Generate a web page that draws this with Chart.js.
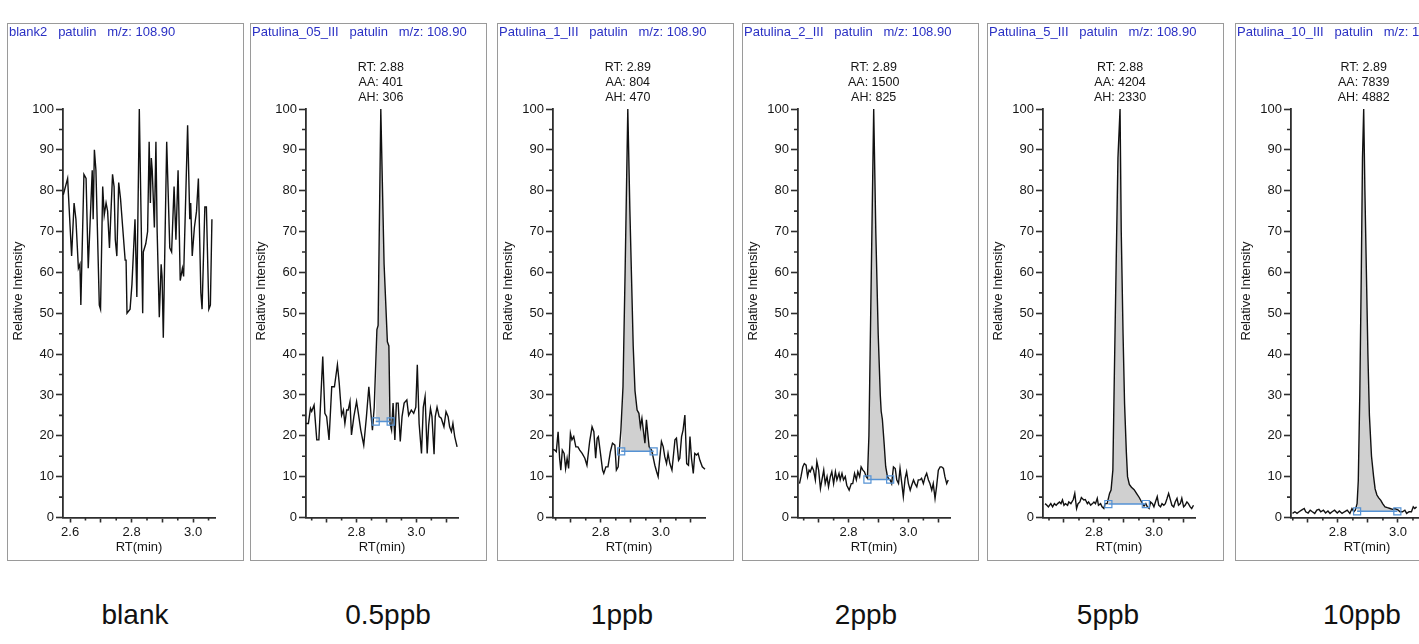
<!DOCTYPE html>
<html lang="en">
<head>
  <meta charset="UTF-8" />
  <title>Patulin m/z 108.90 – calibration levels</title>
  <script src="https://cdn.jsdelivr.net/npm/chart.js"></script>
  <style>
    body {
      margin: 0;
      width: 1419px;
      height: 644px;
      overflow: hidden;
      background: #fff;
      position: relative;
      font-family: 'Liberation Sans', Arial, sans-serif;
    }

    .panel {
      position: absolute;
      top: 23px;
      width: 237px;
      height: 538px;
      border: 1px solid #9a9a9a;
      box-sizing: border-box;
    }

    .panel canvas {
      position: absolute;
      left: -1px;
      top: -1px;
    }

    .title {
      position: absolute;
      left: 1px;
      top: 0px;
      font-size: 13px;
      color: #2a30c4;
      white-space: pre;
    }

    .conc {
      position: absolute;
      top: 601px;
      font-size: 28px;
      line-height: 28px;
      color: #111;
      transform: translateX(-50%);
      white-space: nowrap;
    }
  </style>
</head>
<body>

  <div id="wrap"></div>

  <script>
    // --- data ---
    const panelNames = ['blank2', 'Patulina_05_III', 'Patulina_1_III', 'Patulina_2_III', 'Patulina_5_III', 'Patulina_10_III'];
    const concLabels = ['blank', '0.5ppb', '1ppb', '2ppb', '5ppb', '10ppb'];

    const peakRT = ['', '2.88', '2.89', '2.89', '2.88', '2.89'];
    const peakAA = ['', '401', '804', '1500', '4204', '7839'];
    const peakAH = ['', '306', '470', '825', '2330', '4882'];

    // integration baseline: start RT, end RT, level (%)
    const baseStart = [null, 2.864, 2.868, 2.863, 2.848, 2.864];
    const baseEnd = [null, 2.914, 2.976, 2.939, 2.973, 2.998];
    const baseLevel = [null, 23.5, 16.2, 9.3, 3.3, 1.5];

    const yTicks = [0, 10, 20, 30, 40, 50, 60, 70, 80, 90, 100];
    const yMinorTicks = [5, 15, 25, 35, 45, 55, 65, 75, 85, 95];
    const xTicksBlank = [2.6, 2.7, 2.8, 2.9, 3.0];
    const xLabelsBlank = ['2.6', '2.8', '3.0'];
    const xTicks = [2.7, 2.8, 2.9, 3.0, 3.1];
    const xLabels = ['2.8', '3.0'];
    const xMinorTicks = [2.65, 2.75, 2.85, 2.95, 3.05];

    const rtBlank = [2.578,2.592,2.605,2.613,2.619,2.627,2.632,2.635,2.645,2.652,2.659,2.672,2.675,2.679,2.684,2.695,2.699,2.706,2.711,2.717,2.722,2.728,2.738,2.743,2.747,2.752,2.758,2.764,2.771,2.779,2.782,2.785,2.795,2.801,2.811,2.817,2.825,2.836,2.838,2.846,2.852,2.857,2.861,2.864,2.867,2.874,2.879,2.883,2.890,2.896,2.899,2.903,2.914,2.924,2.930,2.938,2.944,2.951,2.958,2.965,2.969,2.982,2.989,2.992,2.997,3.004,3.011,3.017,3.025,3.029,3.038,3.043,3.051,3.056,3.061];
    const intBlank = [79,83,64,77,73,61,62,52,84,83,61,85,73,90,85,52,51,81,74,77,75,66,84,81,68,64,82,78,71,63,63,50,51,57,73,54,100,50,65,67,70,92,77,88,85,71,92,70,49,62,59,44,92,66,65,81,68,85,58,61,59,96,73,77,64,71,75,83,55,51,76,76,51,52,73];

    const rt05 = [2.631,2.639,2.646,2.650,2.658,2.667,2.674,2.687,2.694,2.700,2.708,2.717,2.726,2.736,2.742,2.750,2.756,2.761,2.767,2.772,2.778,2.783,2.791,2.800,2.806,2.814,2.824,2.833,2.841,2.848,2.853,2.859,2.868,2.872,2.881,2.892,2.903,2.908,2.912,2.917,2.922,2.928,2.933,2.939,2.946,2.952,2.959,2.968,2.974,2.983,2.991,2.998,3.003,3.009,3.017,3.023,3.029,3.036,3.041,3.047,3.052,3.059,3.063,3.069,3.076,3.083,3.092,3.099,3.106,3.111,3.117,3.122,3.128,3.136];
    const int05 = [23,23,26.7,26,27.5,19,19,39.4,25.5,24.7,19,32,32,37.4,32.9,25,26.3,23,26.3,26.3,28.4,20.2,24.7,28.4,25.5,21.4,17.7,24.7,32,25.5,21.4,27,46,47,100,62,43,42,23,21.4,28,19,28,28,18.6,24.7,28,28.8,25,26.3,25.5,27,37.4,23,15.7,27,29.6,15.7,22.6,26.7,24.7,15.5,24.7,27,24.7,24.3,22.2,25.9,24.7,22.2,21,23,19.8,17.3];

    const rt1 = [2.641,2.647,2.652,2.658,2.663,2.667,2.672,2.678,2.683,2.688,2.693,2.699,2.704,2.710,2.717,2.724,2.730,2.738,2.747,2.754,2.763,2.771,2.777,2.783,2.788,2.792,2.799,2.806,2.810,2.817,2.824,2.832,2.839,2.847,2.852,2.858,2.861,2.867,2.874,2.881,2.890,2.897,2.902,2.908,2.914,2.921,2.927,2.932,2.937,2.941,2.947,2.952,2.957,2.961,2.969,2.974,2.980,2.986,2.991,2.997,3.002,3.008,3.013,3.019,3.024,3.030,3.037,3.041,3.047,3.052,3.059,3.063,3.069,3.074,3.080,3.086,3.092,3.097,3.102,3.108,3.113,3.119,3.124,3.130,3.138,3.147];
    const int1 = [16.7,16.5,16.1,21,14.5,11.6,16.5,15.7,12,14.5,12,20.6,19,19.8,17.3,17.3,16.5,15.7,14.5,12.8,18.6,22.2,21,14.5,19.4,19.8,15.7,11.6,10.8,12.4,12.4,16.1,18.2,17.7,11.6,12.4,15.7,21.4,32,60,100,75,60,42,31,26.3,25.5,22.2,24.3,21.8,18.2,23.9,20.2,17.3,16.5,14.9,12.8,11.2,10,14.9,18.6,17.3,14.9,13.2,15.7,13.2,11.6,14.5,19,19.4,14,14.5,19.8,21.4,25.1,13.2,12.8,19.8,14.5,10.8,15.7,15.3,15.7,14,12.4,11.8];

    const rt2 = [2.636,2.641,2.647,2.652,2.658,2.663,2.668,2.672,2.678,2.683,2.689,2.694,2.700,2.706,2.711,2.717,2.722,2.728,2.733,2.739,2.744,2.750,2.756,2.761,2.768,2.772,2.778,2.783,2.789,2.794,2.802,2.809,2.814,2.820,2.826,2.831,2.837,2.842,2.848,2.853,2.859,2.863,2.868,2.872,2.878,2.884,2.891,2.899,2.906,2.909,2.913,2.919,2.924,2.930,2.934,2.939,2.944,2.950,2.956,2.961,2.967,2.972,2.978,2.983,2.989,2.994,3.000,3.006,3.011,3.017,3.022,3.028,3.033,3.039,3.044,3.050,3.056,3.061,3.067,3.072,3.078,3.083,3.089,3.094,3.100,3.106,3.111,3.117,3.122,3.128,3.133];
    const int2 = [8.3,10,12.4,13.2,12.8,10,11.6,11.2,12.4,11.6,9.2,13.7,11.6,7.1,9.2,11.6,8.3,10,7.5,10,11.2,8.3,11.2,9.2,10.8,9.2,10.8,9.2,10,7.9,6.7,8.3,8.3,10.8,9.2,11.2,10,12.4,11.6,11.2,10,9.6,20,40,70,100,70,45,30,26,24,18,12.5,10,9.5,9.2,8.3,12.4,12,9.2,8.3,12,8.3,5.1,9.6,11.2,8.3,6.7,7.9,9.2,8.3,7.5,9.2,9.2,9.6,8.3,10,10.8,9.2,8.3,6.7,8.3,4.7,7.5,11.6,12.4,12.4,12,10,8.3,9.2];

    const rt5 = [2.637,2.643,2.648,2.656,2.662,2.668,2.674,2.679,2.685,2.690,2.695,2.700,2.705,2.712,2.716,2.723,2.731,2.736,2.742,2.747,2.753,2.758,2.766,2.771,2.778,2.782,2.789,2.795,2.800,2.805,2.811,2.815,2.822,2.827,2.833,2.837,2.844,2.852,2.857,2.863,2.868,2.874,2.880,2.887,2.891,2.897,2.902,2.908,2.912,2.918,2.925,2.934,2.943,2.951,2.959,2.967,2.973,2.978,2.984,2.989,2.995,3.000,3.005,3.011,3.016,3.022,3.027,3.033,3.038,3.044,3.049,3.055,3.060,3.066,3.071,3.077,3.082,3.088,3.093,3.099,3.104,3.110,3.115,3.121,3.126,3.132];
    const int5 = [3.4,3.0,2.6,3.4,2.6,3.4,3.0,3.4,3.8,3.4,4.3,3.0,3.4,3.0,3.8,3.4,4.4,5.9,2.2,3.4,3.8,4.9,4.3,4.4,3.4,3.8,3.0,3.4,3.8,3.4,4.7,3.0,3.4,2.6,2.2,3.4,3.4,5.9,6.7,11.6,35,62,88,100,70,45,28,16,10,8.1,7.4,6.8,5.8,4.9,3.8,2.8,3.4,2.6,2.2,3.8,3.4,2.6,3.8,5.1,3.0,2.6,3.4,3.0,3.4,4.7,5.9,4.3,3.0,2.6,3.8,4.7,3.0,3.4,4.7,2.6,3.0,3.8,3.4,2.6,2.2,3.0];

    const rt10 = [2.649,2.657,2.664,2.671,2.679,2.688,2.693,2.701,2.708,2.715,2.723,2.730,2.737,2.743,2.752,2.759,2.767,2.774,2.781,2.789,2.798,2.805,2.814,2.822,2.831,2.840,2.847,2.853,2.858,2.864,2.868,2.873,2.878,2.882,2.886,2.890,2.895,2.900,2.905,2.912,2.919,2.924,2.930,2.936,2.943,2.949,2.957,2.965,2.974,2.982,2.990,2.996,3.001,3.007,3.015,3.023,3.029,3.037,3.045,3.051,3.056,3.062];
    const int10 = [1.0,1.4,1.0,1.4,1.8,2.2,1.4,1.1,1.8,1.4,1.0,1.8,2.0,1.4,1.8,1.1,1.6,1.0,1.4,1.8,1.1,1.6,1.0,1.4,1.8,1.0,2.2,1.4,1.8,3.4,9,30,60,88,100,80,60,40,25,15,10,7,5.5,4.8,4.2,3.4,2.6,2.4,2.2,2.0,2.2,2.0,1.8,1.4,1.4,1.8,1.0,1.4,1.4,2.6,2.2,2.6];

    const rtSeries = [rtBlank, rt05, rt1, rt2, rt5, rt10];
    const intSeries = [intBlank, int05, int1, int2, int5, int10];

    // --- layout ---
    const panelLeft = [7, 250, 497, 742, 987, 1235];
    const xMin = [2.577, 2.631, 2.641, 2.631, 2.630, 2.644];
    const xMax = [3.071, 3.139, 3.147, 3.139, 3.137, 3.150];
    const concCenter = [135, 388, 622, 866, 1108, 1362];
    const PW = 237, PH = 538;

    const axisColor = '#2e2e2e';
    const textColor = '#161616';
    const traceColor = '#111';
    const fillColor = '#d0d0d0';
    const baseColor = '#5592d4';

    Chart.defaults.font.family = "'Liberation Sans', Arial, sans-serif";
    Chart.defaults.color = textColor;

    // minor ticks, y title and peak label
    const decor = {
      id: 'decor',
      afterDraw(chart, args, opts) {
        const { ctx, chartArea, scales } = chart;
        ctx.save();
        ctx.strokeStyle = axisColor;
        ctx.lineWidth = 1.6;
        ctx.beginPath();
        yMinorTicks.forEach(v => {
          const py = scales.y.getPixelForValue(v);
          ctx.moveTo(chartArea.left - 4, py);
          ctx.lineTo(chartArea.left, py);
        });
        xMinorTicks.forEach(v => {
          if (v < scales.x.min || v > scales.x.max) return;
          const px = scales.x.getPixelForValue(v);
          ctx.moveTo(px, chartArea.bottom);
          ctx.lineTo(px, chartArea.bottom + 3);
        });
        ctx.stroke();

        ctx.fillStyle = textColor;
        ctx.font = "13px 'Liberation Sans', Arial, sans-serif";
        ctx.textAlign = 'center';
        ctx.textBaseline = 'middle';
        ctx.save();
        ctx.translate(11, chartArea.top + 182);
        ctx.rotate(-Math.PI / 2);
        ctx.fillText('Relative Intensity', 0, 0);
        ctx.restore();

        if (opts.lines && opts.lines.length) {
          const px = scales.x.getPixelForValue(opts.apex);
          ctx.font = "12.5px 'Liberation Sans', Arial, sans-serif";
          opts.lines.forEach((t, k) => {
            ctx.fillText(t, px, chartArea.top - 41 + k * 15);
          });
        }
        ctx.restore();
      }
    };

    const wrap = document.getElementById('wrap');

    rtSeries.forEach((rt, i) => {
      const inten = intSeries[i];

      const panel = document.createElement('div');
      panel.className = 'panel';
      panel.style.left = panelLeft[i] + 'px';
      const canvas = document.createElement('canvas');
      canvas.width = PW;
      canvas.height = PH;
      canvas.style.width = PW + 'px';
      canvas.style.height = PH + 'px';
      panel.appendChild(canvas);
      const title = document.createElement('div');
      title.className = 'title';
      title.textContent = panelNames[i] + '   patulin   m/z: 108.90';
      panel.appendChild(title);
      wrap.appendChild(panel);

      const lab = document.createElement('div');
      lab.className = 'conc';
      lab.style.left = concCenter[i] + 'px';
      lab.textContent = concLabels[i];
      wrap.appendChild(lab);

      const trace = rt.map((x, k) => ({ x: x, y: inten[k] }));
      const datasets = [{
        data: trace,
        borderColor: traceColor,
        borderWidth: 1.4,
        pointRadius: 0,
        tension: 0,
        fill: false,
        clip: 4,
        order: 1
      }];

      let label = null;
      let apex = null;
      if (baseStart[i] !== null) {
        const b0 = baseStart[i], b1 = baseEnd[i], lvl = baseLevel[i];
        const inside = trace.filter(p => p.x > b0 && p.x < b1);
        datasets.push({
          data: [{ x: b0, y: lvl }, ...inside, { x: b1, y: lvl }],
          borderWidth: 0,
          borderColor: 'rgba(0,0,0,0)',
          backgroundColor: fillColor,
          pointRadius: 0,
          fill: { value: lvl },
          order: 2
        });
        datasets.push({
          data: [{ x: b0, y: lvl }, { x: b1, y: lvl }],
          borderColor: baseColor,
          borderWidth: 1.5,
          pointStyle: 'rect',
          pointRadius: 5,
          pointBorderWidth: 1.2,
          pointBorderColor: baseColor,
          pointBackgroundColor: 'rgba(0,0,0,0)',
          fill: false,
          order: 0
        });
        apex = trace.reduce((a, b) => (b.y > a.y ? b : a)).x;
        label = ['RT: ' + peakRT[i], 'AA: ' + peakAA[i], 'AH: ' + peakAH[i]];
      }

      const tickVals = i === 0 ? xTicksBlank : xTicks;
      const tickLabs = i === 0 ? xLabelsBlank : xLabels;

      new Chart(canvas, {
        type: 'line',
        data: { datasets },
        options: {
          responsive: false,
          animation: false,
          devicePixelRatio: 1,
          events: [],
          layout: { padding: { left: 0, right: 29, top: 86, bottom: 3.5 } },
          plugins: {
            legend: { display: false },
            tooltip: { enabled: false },
            decor: { lines: label, apex: apex }
          },
          scales: {
            x: {
              type: 'linear',
              min: xMin[i],
              max: xMax[i],
              afterBuildTicks: s => { s.ticks = tickVals.map(v => ({ value: v })); },
              afterFit: s => { s.height = 40; },
              ticks: {
                autoSkip: false,
                maxRotation: 0,
                padding: 2,
                color: textColor,
                font: { size: 13 },
                callback: v => (tickLabs.includes(v.toFixed(1)) ? v.toFixed(1) : '')
              },
              grid: { drawOnChartArea: false, drawTicks: true, tickLength: 5, tickColor: axisColor, tickWidth: 1.6 },
              border: { display: true, color: axisColor, width: 1.8 },
              title: { display: true, text: 'RT(min)', color: textColor, font: { size: 13 }, padding: { top: 0, bottom: 2 } }
            },
            y: {
              type: 'linear',
              min: 0,
              max: 100,
              afterBuildTicks: s => { s.ticks = yTicks.map(v => ({ value: v })); },
              afterFit: s => { s.width = 56; },
              ticks: { padding: 2, color: textColor, font: { size: 13 } },
              grid: { drawOnChartArea: false, drawTicks: true, tickLength: 7, tickColor: axisColor, tickWidth: 1.6 },
              border: { display: true, color: axisColor, width: 1.8 }
            }
          }
        },
        plugins: [decor]
      });
    });
  </script>
</body>
</html>
